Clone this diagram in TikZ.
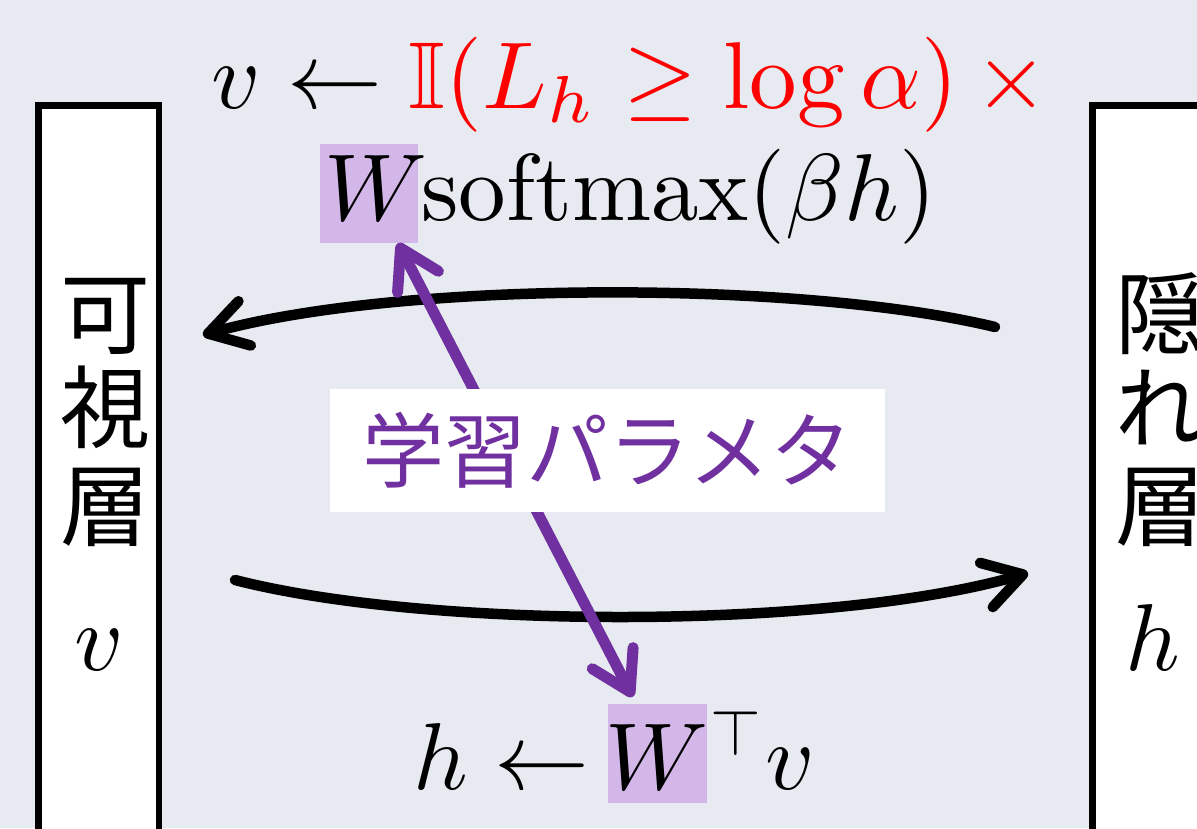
\documentclass[tikz,border=0pt]{standalone}
\usepackage{amsmath,amssymb}
\usepackage{graphicx}
\usepackage{fontspec}
\newfontfamily\jfont{Noto Sans CJK JP}
\usetikzlibrary{arrows.meta,calc}
\definecolor{bgc}{HTML}{E7EAF0}
\definecolor{ppl}{HTML}{7030A0}
\definecolor{hlc}{HTML}{D4B7E9}
\newcommand{\Sc}[1]{\scalebox{9.5}{$#1$}}
\tikzset{
 layerbox/.style={draw=black, line width=6.5pt, fill=white, inner sep=0pt, anchor=north west},
 hlbox/.style={fill=hlc, inner sep=0pt},
 jtext/.style={font=\jfont\fontsize{90}{96}\selectfont, inner sep=0pt, anchor=base},
 mtext/.style={inner sep=0pt, anchor=base},
 flow/.style={line width=10.5pt, line cap=round, -{Straight Barb[round,length=38pt,width=46pt]}},
 paramarrow/.style={draw=ppl, line width=11pt, line cap=round, {Straight Barb[round,length=38pt,width=46pt]}-{Straight Barb[round,length=38pt,width=46pt]}},
 labelbox/.style={fill=white, inner sep=0pt, text=ppl, font=\jfont\fontsize{82}{90}\selectfont}
}
\begin{document}
\begin{tikzpicture}[x=1pt,y=-1pt]
\useasboundingbox (0,0) rectangle (1197,828);
\fill[bgc] (0,0) rectangle (1197,828);
\clip (0,0) rectangle (1197,828);

% layers
\node[layerbox, minimum width=120.3pt, minimum height=800pt] (vis) at (35.2,102) {};
\node[layerbox, minimum width=200pt, minimum height=800pt] (hid) at (1089.3,102) {};

\node[jtext] (vis1) at (105,347) {可};
\node[jtext] (vis2) at (105,441) {視};
\node[jtext] (vis3) at (105,539) {層};
\node[mtext] (visv) at (99,670) {\Sc{v}};

\node[jtext] (hid1) at (1160,347) {隠};
\node[jtext] (hid2) at (1160,441) {れ};
\node[jtext] (hid3) at (1160,539) {層};
\node[mtext] (hidh) at (1153,670) {\Sc{h}};

% flows
\coordinate (hidOut) at (995,327);
\coordinate (visIn) at (203,335);
\coordinate (visOut) at (235,580);
\coordinate (hidIn) at (1028,573);
\draw[flow] (hidOut) .. controls (800,280) and (400,280) .. (visIn);
\draw[flow] (visOut) .. controls (430,630) and (830,630) .. (hidIn);

% top formula
\node[mtext] (upd) at (630,108) {\Sc{v \leftarrow {\color{red}\mathbb{I}(L_h \geq \log\alpha)\,\times}}};
\node[hlbox, minimum width=98pt, minimum height=99pt] (Wtop) at (368.5,193.5) {};
\node[mtext] (Wtopt) at (376,220) {\Sc{W}};
\node[mtext, anchor=base west] (smax) at (421,220) {\Sc{\mathrm{softmax}(\beta h)}};

% bottom formula
\node[hlbox, minimum width=99pt, minimum height=99pt] (Wbot) at (657.5,753.5) {};
\node[mtext] (Wbott) at (657,789) {\Sc{W}};
\node[mtext, anchor=base east] (hupd) at (590,789) {\Sc{h \leftarrow}};
\node[mtext] (tp) at (736,755) {\scalebox{6.5}{$\top$}};
\node[mtext, anchor=base west] (vb) at (765,789) {\Sc{v}};

% parameter arrow
\draw[paramarrow] ($(Wtop.south west)!0.8!(Wtop.south east)$) -- ([yshift=7pt]$(Wbot.north west)!0.25!(Wbot.north east)$);
\node[labelbox, minimum width=555pt, minimum height=123pt] (lbl) at (607.5,450.5) {学習パラメタ};
\end{tikzpicture}
\end{document}
